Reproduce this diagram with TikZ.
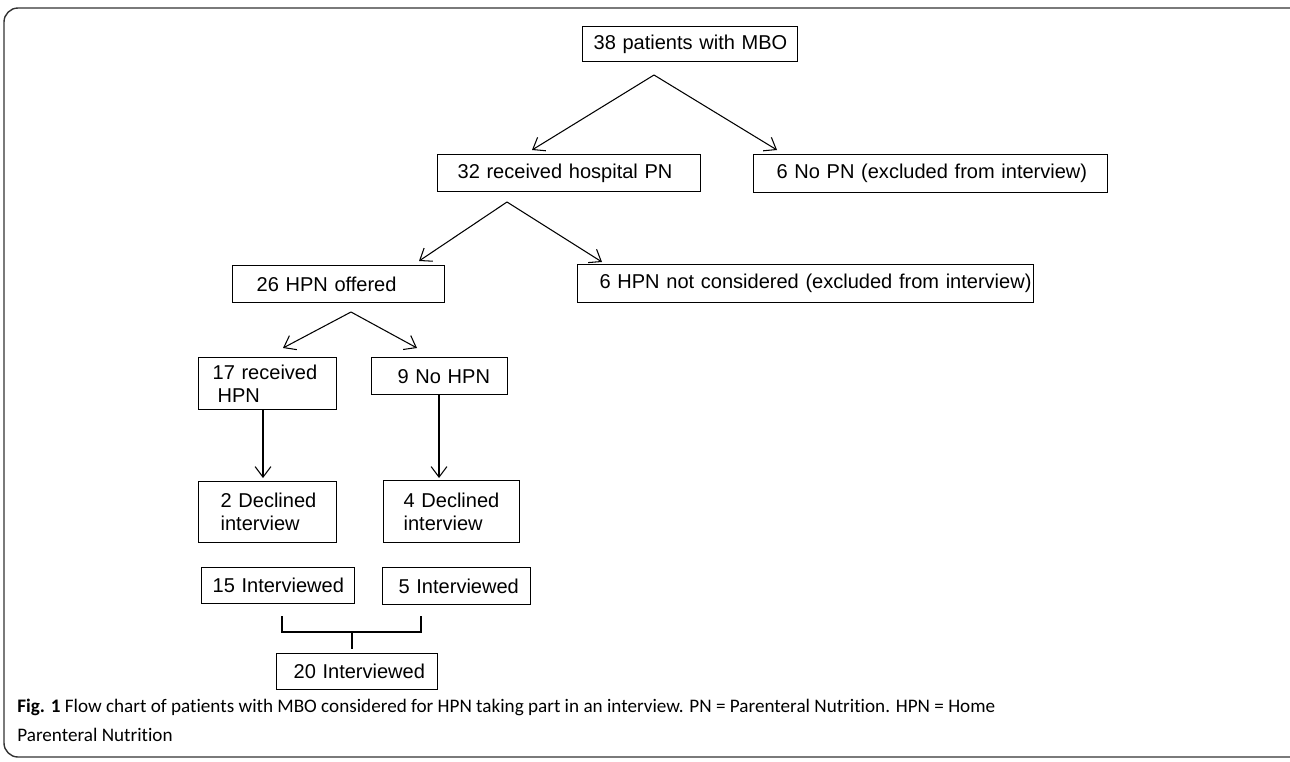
\documentclass[tikz,border=0pt]{standalone}
\usepackage{fontspec}
\newfontfamily\diagfont{Liberation Sans}
\newfontfamily\capfont[Ligatures=NoCommon]{Carlito}
\usetikzlibrary{arrows.meta, calc, positioning}

\begin{document}
\begin{tikzpicture}[x=0.02cm, y=-0.02cm,
    box/.style={draw, line width=0.7pt, anchor=north west, inner xsep=0pt, inner ysep=0pt, align=left,
        font=\diagfont\fontsize{11.4pt}{13pt}\selectfont},
    arrow/.style={-{Straight Barb[length=6pt, width=9pt]}, line width=0.6pt},
    line/.style={line width=0.6pt},
    frame/.style={draw=black!80, line width=0.8pt, rounded corners=8pt},
    caption/.style={anchor=base west, inner sep=0pt, font=\capfont\fontsize{10.9pt}{17pt}\selectfont}]

    \clip (0,0) rectangle (1290,761);
    \draw[frame] (4,8) rectangle (1310,757);

    % boxes
    \node[box, text width=4.30cm, minimum height=0.70cm] (mbo) at (582,26) {\hspace*{0.22cm}38 patients with MBO};
    \node[box, text width=5.26cm, minimum height=0.74cm] (recv) at (437,154) {\hspace*{0.40cm}32 received hospital PN};
    \node[box, text width=7.08cm, minimum height=0.76cm] (nopn) at (753,154) {\hspace*{0.46cm}6 No PN (excluded from interview)};
    \node[box, text width=4.24cm, minimum height=0.74cm] (offer) at (232,265) {\hspace*{0.48cm}26 HPN offered};
    \node[box, text width=9.12cm, minimum height=0.76cm] (notcons) at (577,264) {\hspace*{0.44cm}6 HPN not considered (excluded from interview)};
    \node[box, text width=2.76cm, minimum height=1.04cm] (rhpn) at (198,357) {\hspace*{0.28cm}17 received\\\hspace*{0.38cm}HPN};
    \node[box, text width=2.72cm, minimum height=0.74cm] (nohpn) at (371,357) {\hspace*{0.52cm}9 No HPN};
    \node[box, text width=2.76cm, minimum height=1.22cm] (decl2) at (198,481) {\hspace*{0.44cm}2 Declined\\\hspace*{0.44cm}interview};
    \node[box, text width=2.72cm, minimum height=1.24cm] (decl4) at (383,480) {\hspace*{0.40cm}4 Declined\\\hspace*{0.40cm}interview};
    \node[box, text width=3.06cm, minimum height=0.72cm] (int15) at (201,567) {\hspace*{0.22cm}15 Interviewed};
    \node[box, text width=2.96cm, minimum height=0.74cm] (int5) at (382,567) {\hspace*{0.32cm}5 Interviewed};
    \node[box, text width=3.22cm, minimum height=0.72cm] (int20) at (276,653) {\hspace*{0.34cm}20 Interviewed};

    % branch points
    \coordinate (split1) at (654,75);
    \coordinate (split2) at (507,202);
    \coordinate (split3) at (351,312);
    \coordinate (merge) at (352,632);

    \draw[arrow] (split1) -- ($(recv.north west)+(95,-4)$);
    \draw[arrow] (split1) -- ($(nopn.north west)+(24,-4)$);
    \draw[arrow] (split2) -- ($(offer.north west)+(187,-4)$);
    \draw[arrow] (split2) -- ($(notcons.north west)+(25,-2)$);
    \draw[arrow] (split3) -- ($(rhpn.north west)+(85,-9)$);
    \draw[arrow] (split3) -- ($(nohpn.north west)+(46,-9)$);
    \draw[arrow] ($(rhpn.south west)+(65,0)$) -- ($(decl2.north west)+(65,-3)$);
    \draw[arrow] ($(nohpn.south west)+(68,0)$) -- ($(decl4.north west)+(56,-2)$);

    \draw[line] ($(int15.south west)+(81,12)$) |- (merge) -| ($(int5.south west)+(39,11)$);
    \draw[line] (merge) -- ($(int20.north west)+(76,-4)$);

    % caption
    \node[caption] (cap1) at (17,712) {\textbf{Fig. 1} Flow chart of patients with MBO considered for HPN taking part in an interview. PN = Parenteral Nutrition. HPN = Home};
    \node[caption] (cap2) at (17,741) {Parenteral Nutrition};
\end{tikzpicture}
\end{document}
